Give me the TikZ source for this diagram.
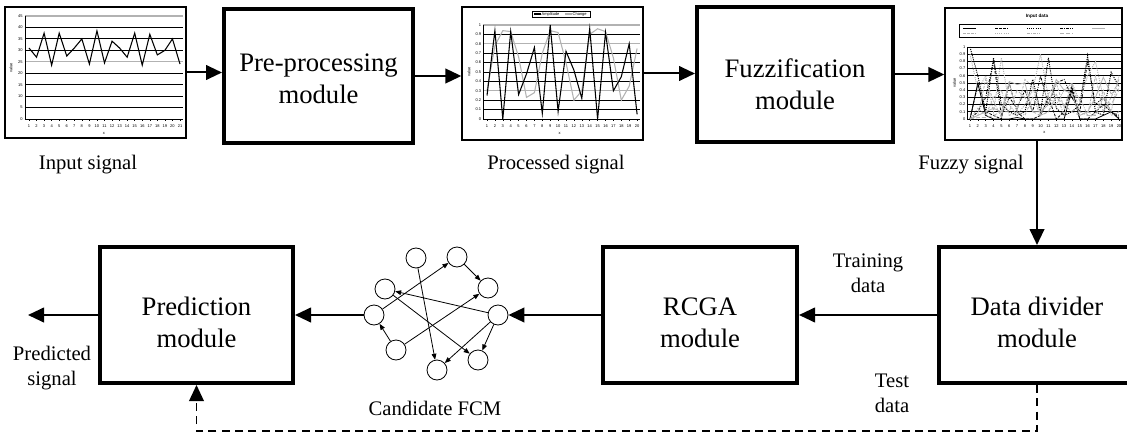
\documentclass[tikz,border=0pt]{standalone}
\usepackage{fontspec}
\setmainfont{Liberation Serif}
\setsansfont{Liberation Sans}
\usetikzlibrary{arrows.meta}
\usetikzlibrary{shapes}

\begin{document}
\begin{tikzpicture}[x=0.75pt, y=-0.75pt,
					>={Triangle[length=12pt,width=11pt]},
					every node/.style = {inner sep=1pt}]

\tikzstyle{module}=[rectangle, draw, line width=3pt, align=center, text height=49pt, font=\fontsize{20}{24}\selectfont]
\tikzstyle{chart}=[rectangle, draw, line width=1pt, inner sep=0pt]
\tikzstyle{caption}=[align=center, font=\fontsize{15.5}{19}\selectfont, inner sep=0pt]
\tikzstyle{flow}=[line width=1.5pt, ->]
\tikzstyle{concept}=[circle, draw, line width=0.6pt, minimum size=15pt, inner sep=0pt]
\tikzstyle{link}=[line width=0.6pt, -{Triangle[length=4.5pt,width=3.5pt]}]
\tikzstyle{gridline}=[line width=0.6pt]
\tikzstyle{greyline}=[line width=1pt, gray!60]
\tikzstyle{ticklab}=[font=\sffamily\fontsize{3}{3}\selectfont, inner sep=0.3pt]

\useasboundingbox (0,0) rectangle (1127,435);

% top row
\node[chart, minimum width=135.75pt, minimum height=98.25pt] (insig) at (95.5,72.5) {};
\node[module, text height=42pt, minimum width=141.75pt, minimum height=100.5pt] (pre) at (318.5,76) {Pre-processing\\module};
\node[chart, minimum width=135.75pt, minimum height=99.75pt] (procsig) at (552.5,73.5) {};
\node[module, text height=52pt, minimum width=147pt, minimum height=101.25pt] (fuzz) at (795,74.5) {Fuzzification\\module};
\node[chart, minimum width=132.75pt, minimum height=99pt] (fuzzsig) at (1033.5,74) {};

\node[caption] (insiglab) at (88,165) {Input signal};
\node[caption] (procsiglab) at (556,165) {Processed signal};
\node[caption] (fuzzsiglab) at (971,165) {Fuzzy signal};

% bottom row
\node[module, minimum width=144.75pt, minimum height=102pt] (pred) at (196.5,315) {Prediction\\module};
\node[module, minimum width=145.5pt, minimum height=102pt] (rcga) at (700,315) {RCGA\\module};
\node[module, minimum width=147pt, minimum height=102pt] (divider) at (1037,315) {Data divider\\module};

\node[caption] (trainlab) at (868,273) {Training\\data};
\node[caption] (testlab) at (892,393) {Test\\data};
\node[caption] (outlab) at (52,368) {Predicted\\signal};
\node[caption] (fcmlab) at (435,408) {Candidate FCM};

% candidate FCM
\node[concept] (f1) at (416,258) {};
\node[concept] (f2) at (457,257) {};
\node[concept] (f3) at (488,288) {};
\node[concept] (f4) at (385,289) {};
\node[concept] (f5) at (374,315) {};
\node[concept] (f6) at (498,315) {};
\node[concept] (f7) at (396,350) {};
\node[concept] (f8) at (478,360) {};
\node[concept] (f9) at (437,370) {};

\draw[link] (f1) -- (f9);
\draw[link] (f2) -- (f3);
\draw[link] (f5) -- (f2);
\draw[link] (f7) -- (f3);
\draw[link] (f7) -- (f5);
\draw[link] (f6) -- (f4);
\draw[link] (f4) -- (f8);
\draw[link] (f6) -- (f8);
\draw[link] (f6) -- (f9);

% main flow
\coordinate (out) at (28,315);
\draw[flow] (insig.east) -- (insig.east -| pre.west);
\draw[flow] (pre.east) -- (pre.east -| procsig.west);
\draw[flow] (procsig.east) -- (procsig.east -| fuzz.west);
\draw[flow] (fuzz.east) -- (fuzz.east -| fuzzsig.west);
\draw[flow] (divider.north |- fuzzsig.south) -- (divider.north);
\draw[flow] (divider.west) -- (rcga.east);
\draw[flow] (rcga.west) -- (rcga.west -| f6.east);
\draw[flow] (f5.west) -- (f5.west -| pred.east);
\draw[flow] (pred.west) -- (out);
\draw[flow, line width=1.1pt, dash pattern=on 6pt off 4pt] (divider.south) -- ++(0,46) -| (pred.south);

% input signal chart
\begin{scope}[shift={(29,119)}, x=5.6625pt, y=1.7168pt]
\foreach \v [count=\k] in {0,5,...,45}
	\draw[gridline] (-0.53,\v) -- (20.4,\v) node[ticklab, anchor=east] (ay\k) at (-0.75,\v) {\v};
\draw[greyline] (-0.53,45) -- (20.4,45);
\draw[greyline] (-0.53,25) -- (20.4,25);
\draw[gridline] (-0.53,45) -- (-0.53,0) -- (20.4,0);
\foreach \i in {1,...,21} {
	\draw[line width=0.4pt] (\i-1,0) -- (\i-1,-1);
	\node[ticklab] (ax\i) at (\i-1,-3.1) {\i};
}
\node[ticklab, rotate=90] (ayname) at (-2.4,22.3) {value};
\node[ticklab] (axname) at (9.93,-6.1) {x};
\draw[line width=0.8pt] (0,31) \foreach \v [count=\i] in {27,37.5,23.5,37.5,27.5,31,35,24,38.5,24.5,34,31,27,37.5,23.5,37,28,30,35,24} {-- (\i,\v)};
\end{scope}

% processed signal chart
\begin{scope}[shift={(487,119)}, x=5.925pt, y=70.5pt]
\foreach \v [count=\k] in {0,0.1,0.2,0.3,0.4,0.5,0.6,0.7,0.8,0.9,1}
	\draw[gridline] (-0.5,\v) -- (19.4,\v) node[ticklab, anchor=east] (by\k) at (-0.65,\v) {\v};
\draw[greyline] (-0.5,1) -- (19.4,1);
\draw[greyline] (-0.5,0.8) -- (19.4,0.8);
\draw[greyline] (-0.5,0.3) -- (19.4,0.3);
\draw[gridline] (-0.5,1) -- (-0.5,0) -- (19.4,0);
\foreach \i in {1,...,20} {
	\draw[line width=0.4pt] (\i-1,0) -- (\i-1,-0.025);
	\node[ticklab] (bx\i) at (\i-1,-0.075) {\i};
}
\node[ticklab, rotate=90] (byname) at (-2.3,0.5) {value};
\node[ticklab] (bxname) at (9.2,-0.15) {x};
\draw[line width=0.8pt, gray!60] (0,0.3) \foreach \v [count=\i] in {0.78,0.94,0.93,0.66,0.23,0.28,0.7,0.94,0.92,0.6,0.2,0.3,0.9,0.96,0.93,0.65,0.2,0.35,0.75} {-- (\i,\v)};
\draw[line width=0.8pt] (0,0.25) \foreach \v [count=\i] in {0.94,0,0.93,0.26,0.48,0.76,0.06,1,0.08,0.72,0.52,0.22,0.96,0,0.92,0.3,0.45,0.8,0.05} {-- (\i,\v)};
\end{scope}
\draw[line width=0.4pt] (532,11) rectangle (590,17);
\draw[line width=0.8pt] (534,14) -- (541,14);
\node[ticklab, anchor=west] (bleg1) at (541,14) {Amplitude};
\draw[line width=0.8pt, gray!60] (565,14) -- (572,14);
\node[ticklab, anchor=west] (bleg2) at (572,14) {Change};

% fuzzy signal chart
\node[ticklab, font=\sffamily\bfseries\fontsize{3.5}{4}\selectfont] (ctitle) at (1037,16) {Input data};
\draw[line width=0.4pt] (959,24) rectangle (1121,37);
\draw[line width=0.6pt] (963,28) -- (976,28);
\draw[line width=0.6pt, dash pattern=on 2pt off 1pt] (995,28) -- (1008,28);
\draw[line width=0.7pt, dash pattern=on 0.8pt off 0.8pt] (1027,28) -- (1040,28);
\draw[line width=0.6pt, dash pattern=on 2pt off 1pt on 0.6pt off 1pt] (1060,28) -- (1073,28);
\draw[line width=0.6pt, gray!60] (1092,28) -- (1105,28);
\draw[line width=0.6pt, gray!60, dash pattern=on 2pt off 1pt] (963,33) -- (976,33);
\draw[line width=0.7pt, gray!60, dash pattern=on 0.8pt off 0.8pt] (995,33) -- (1008,33);
\draw[line width=0.6pt, gray!60, dash pattern=on 2pt off 1pt on 0.6pt off 1pt] (1027,33) -- (1040,33);
\draw[line width=0.6pt, gray!60, dash pattern=on 3pt off 1.5pt] (1060,33) -- (1073,33);
\begin{scope}[shift={(970,119)}, x=5.88pt, y=54pt]
\foreach \v [count=\k] in {0,0.1,0.2,0.3,0.4,0.5,0.6,0.7,0.8,0.9,1}
	\draw[gridline] (-0.38,\v) -- (19.4,\v) node[ticklab, anchor=east] (cy\k) at (-0.5,\v) {\v};
\draw[gridline] (-0.38,1) -- (-0.38,0) -- (19.4,0);
\foreach \i in {1,...,20} {
	\draw[line width=0.4pt] (\i-1,0) -- (\i-1,-0.03);
	\node[ticklab] (cx\i) at (\i-1,-0.1) {\i};
}
\node[ticklab, rotate=90] (cyname) at (-2.0,0.5) {value};
\node[ticklab] (cxname) at (9.5,-0.19) {x};
\draw[line width=0.6pt] (0,0) \foreach \v [count=\i] in {0.5,0.05,0,0,0,0.02,0,0,0,0,0,0,0.4,0,0,0,0.05,0.1,0} {-- (\i,\v)};
\draw[line width=0.6pt, dash pattern=on 2pt off 1pt] (0,0) \foreach \v [count=\i] in {0.48,0.1,0.05,0,0.5,0.1,0,0,0.05,0.3,0,0.1,0.45,0,0,0.1,0.2,0.1,0.02} {-- (\i,\v)};
\draw[line width=0.7pt, dash pattern=on 0.8pt off 0.8pt] (0,1) \foreach \v [count=\i] in {0.6,0.1,0.85,0.2,0.1,0.05,0.1,0.55,0.1,0.85,0.15,0.05,0.1,0.2,0.88,0.1,0.05,0.65,0.45} {-- (\i,\v)};
\draw[line width=0.6pt, dash pattern=on 2pt off 1pt on 0.6pt off 1pt] (0,0) \foreach \v [count=\i] in {0.1,0.3,0.8,0.05,0.3,0.15,0.4,0.1,0.6,0.2,0.5,0.55,0.3,0.1,0.8,0.2,0.3,0.1,0.05} {-- (\i,\v)};
\draw[line width=0.6pt, gray!60] (0,0) \foreach \v [count=\i] in {0.05,0.1,0.15,0.1,0.52,0.48,0.5,0.1,0.1,0.2,0.55,0.4,0.35,0.05,0.1,0.3,0.58,0.35,0.42} {-- (\i,\v)};
\draw[line width=0.6pt, gray!60, dash pattern=on 2pt off 1pt] (0,0) \foreach \v [count=\i] in {0.05,0.55,0.25,0.02,0.5,0.1,0.55,0.45,0.05,0.35,0.5,0.15,0.5,0.1,0.05,0.6,0.1,0.3,0.55} {-- (\i,\v)};
\draw[line width=0.7pt, gray!60, dash pattern=on 0.8pt off 0.8pt] (0,0.9) \foreach \v [count=\i] in {0.4,0.6,0.1,0.85,0.2,0.05,0.2,0.4,0.9,0.3,0.2,0.4,0.5,0.25,0.6,0.8,0.3,0.1,0.6} {-- (\i,\v)};
\draw[line width=0.6pt, gray!60, dash pattern=on 2pt off 1pt on 0.6pt off 1pt] (0,0) \foreach \v [count=\i] in {0.15,0.05,0.3,0.4,0.05,0.1,0.05,0.3,0.05,0.1,0.35,0.05,0.35,0.3,0.05,0.05,0.4,0.05,0.1} {-- (\i,\v)};
\draw[line width=0.6pt, gray!60, dash pattern=on 3pt off 1.5pt] (0,0) \foreach \v [count=\i] in {0.02,0.02,0.05,0.1,0.1,0.4,0.3,0.1,0.05,0.1,0.3,0.2,0.1,0.05,0.1,0.05,0.3,0.2,0.4} {-- (\i,\v)};
\end{scope}
\end{tikzpicture}
\end{document}
